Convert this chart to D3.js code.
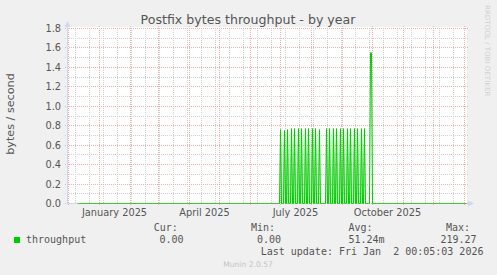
<!DOCTYPE html>
<html><head><meta charset="utf-8">
<script src="https://cdn.jsdelivr.net/npm/d3@7"></script>
<style>html,body{margin:0;padding:0;background:#f0f0f0;}svg{display:block}text{white-space:pre}</style>
</head><body><svg id="c" width="497" height="275"></svg>
<script>
// ---------- data ----------
const title = "Postfix bytes throughput - by year";
const yLabel = "bytes / second";
const seriesName = "throughput";
const dataStart = "2024-12-10";
const dataEnd = "2026-01-03";
const spikeDates = ["2025-07-01","2025-07-05","2025-07-08","2025-07-12","2025-07-15","2025-07-19",
  "2025-07-22","2025-07-26","2025-07-29","2025-08-02","2025-08-05","2025-08-09",
  "2025-08-16","2025-08-19","2025-08-23","2025-08-26","2025-08-30","2025-09-02",
  "2025-09-06","2025-09-09","2025-09-13","2025-09-16","2025-09-20","2025-09-23",
  "2025-09-29","2025-09-30"];
const spikeValues = [0.76,0.75,0.76,0.77,0.77,0.77,
  0.77,0.77,0.77,0.77,0.77,0.76,
  0.77,0.77,0.77,0.77,0.77,0.77,
  0.77,0.77,0.77,0.77,0.77,0.77,
  1.55,1.55];
const yMajorTicks = [0,0.2,0.4,0.6,0.8,1.0,1.2,1.4,1.6,1.8];
const yMinorTicks = [0.1,0.3,0.5,0.7,0.9,1.1,1.3,1.5,1.7];
const xLabelMonths = ["2025-01-01","2025-04-01","2025-07-01","2025-10-01"];
const legendHeaders = ["Cur:","Min:","Avg:","Max:"];
const legendValues = ["0.00","0.00","51.24m","219.27"];
const lastUpdate = "Last update: Fri Jan  2 00:05:03 2026";
const version = "Munin 2.0.57";
const watermark = "RRDTOOL / TOBI OETIKER";

// ---------- setup ----------
const P = d3.utcParse("%Y-%m-%d");
const svg = d3.select("#c");
const X0 = 67, X1 = 467, YT = 28, YB = 203;
const x = d3.scaleUtc().domain([P("2024-11-30"), P("2026-01-04")]).range([X0 + 0.5, X1 + 0.5]);
const y = d3.scaleLinear().domain([0, 1.8]).range([YB + 0.5, YT + 0.5]);
const green = "#00cc00";
const axisCol = "#cfd6f8";
const majorCol = "#f0b0b0";
const minorCol = "#d0d0d0";

svg.append("rect").attr("width", 497).attr("height", 275).attr("fill", "#f0f0f0");
svg.append("rect").attr("x", X0).attr("y", YT - 1).attr("width", X1 - X0).attr("height", YB - YT + 1).attr("fill", "#fff");

// minor vertical grid: every 2 weeks (Sundays)
const minorV = d3.utcDay.range(P("2024-12-08"), P("2026-01-03"), 14);
const majorV = d3.utcMonth.range(P("2024-12-01"), P("2026-01-03"));
const gGrid = svg.append("g");
gGrid.selectAll(".mv").data(minorV).join("line")
  .attr("x1", d => x(d)).attr("x2", d => x(d)).attr("y1", YT).attr("y2", YB)
  .attr("stroke", minorCol).attr("stroke-dasharray", "1,1");
gGrid.selectAll(".mh").data(yMinorTicks).join("line")
  .attr("x1", X0 - 2).attr("x2", X1 + 1).attr("y1", d => Math.round(y(d) - 0.5) + 0.5).attr("y2", d => Math.round(y(d) - 0.5) + 0.5)
  .attr("stroke", minorCol).attr("stroke-dasharray", "1,1");
gGrid.selectAll(".Mv").data(majorV).join("line")
  .attr("x1", d => x(d)).attr("x2", d => x(d)).attr("y1", YT - 2).attr("y2", YB + 3)
  .attr("stroke", majorCol).attr("stroke-dasharray", "1,1");
gGrid.selectAll(".Mh").data(yMajorTicks).join("line")
  .attr("x1", X0 - 2).attr("x2", X1 + 2).attr("y1", d => Math.round(y(d) - 0.5) + 0.5).attr("y2", d => Math.round(y(d) - 0.5) + 0.5)
  .attr("stroke", majorCol).attr("stroke-dasharray", "1,1");

// ---------- series ----------
const spikeMap = new Map(spikeDates.map((d, i) => [d, spikeValues[i]]));
const fmt = d3.utcFormat("%Y-%m-%d");
const series = d3.utcDay.range(P(dataStart), d3.utcDay.offset(P(dataEnd), 1))
  .map(d => ({ date: d, value: spikeMap.get(fmt(d)) || 0 }));

const defs = svg.append("defs");
const gr = defs.append("linearGradient").attr("id", "gf").attr("x1", 0).attr("y1", 0).attr("x2", 0).attr("y2", 1);
gr.append("stop").attr("offset", "0%").attr("stop-color", green).attr("stop-opacity", 0.03);
gr.append("stop").attr("offset", "55%").attr("stop-color", green).attr("stop-opacity", 0.22);
gr.append("stop").attr("offset", "100%").attr("stop-color", green).attr("stop-opacity", 0.3);

// soft fill between closely spaced spikes
const spikes = spikeDates.map((d, i) => ({ date: P(d), value: spikeValues[i] }));
const pairs = d3.pairs(spikes).filter(([a, b]) => (b.date - a.date) / 864e5 > 1 && (b.date - a.date) / 864e5 <= 4);
svg.append("g").selectAll("rect").data(pairs).join("rect")
  .attr("x", ([a]) => x(a.date)).attr("width", ([a, b]) => x(b.date) - x(a.date))
  .attr("y", ([a, b]) => y(Math.min(a.value, b.value))).attr("height", ([a, b]) => y(0) - y(Math.min(a.value, b.value)))
  .attr("fill", "url(#gf)");

svg.append("path").datum(series)
  .attr("d", d3.line().x(d => x(d.date)).y(d => y(d.value)))
  .attr("fill", "none").attr("stroke", green).attr("stroke-width", 1);

// ---------- axes ----------
svg.append("line").attr("x1", X0 + 0.5).attr("x2", X0 + 0.5).attr("y1", YB + 1).attr("y2", 24).attr("stroke", axisCol);
svg.append("line").attr("x1", X0).attr("x2", x(P(dataStart))).attr("y1", YB + 0.5).attr("y2", YB + 0.5).attr("stroke", axisCol);
svg.append("line").attr("x1", X1 + 1).attr("x2", 470).attr("y1", YB + 0.5).attr("y2", YB + 0.5).attr("stroke", axisCol);
svg.append("path").attr("d", `M${X0 - 2.5},${27} L${X0 + 0.5},${21} L${X0 + 3.5},${27} Z`).attr("fill", axisCol);
svg.append("path").attr("d", `M${468},${YB - 2.5} L${474},${YB + 0.5} L${468},${YB + 3.5} Z`).attr("fill", axisCol);

const font = "'DejaVu Sans', sans-serif";
const mono = "'DejaVu Sans Mono', monospace";
const txt = "#555";

svg.selectAll(".yl").data(yMajorTicks).join("text")
  .attr("x", 61).attr("y", d => y(d) + 3.5).attr("text-anchor", "end")
  .attr("font-family", font).attr("font-size", 9.8).attr("fill", txt)
  .text(d => d.toFixed(1));

svg.selectAll(".xl").data(xLabelMonths).join("text")
  .attr("x", d => x(d3.utcDay.offset(P(d), 15))).attr("y", 216).attr("text-anchor", "middle")
  .attr("font-family", font).attr("font-size", 9.8).attr("fill", txt)
  .text(d => d3.utcFormat("%B %Y")(P(d)));

svg.append("text").attr("x", 248).attr("y", 24).attr("text-anchor", "middle")
  .attr("font-family", font).attr("font-size", 12.6).attr("fill", txt).text(title);

svg.append("text").attr("transform", "translate(14,114) rotate(-90)").attr("text-anchor", "middle")
  .attr("font-family", font).attr("font-size", 11.2).attr("fill", txt).text(yLabel);

svg.append("text").attr("transform", "translate(485.3,5) rotate(90)").attr("text-anchor", "start")
  .attr("font-family", font).attr("font-size", 7.1).attr("fill", "#d0d0d0").text(watermark);

// ---------- legend ----------
svg.append("rect").attr("x", 14).attr("y", 237).attr("width", 6).attr("height", 6).attr("fill", green);
svg.append("text").attr("x", 26).attr("y", 243).attr("font-family", mono).attr("font-size", 10).attr("fill", txt).text(seriesName);
const headerX = [153.7, 251, 348.5, 446];
const valueX = [159.5, 257, 348.5, 440.5];
svg.selectAll(".lh").data(legendHeaders).join("text")
  .attr("x", (d, i) => headerX[i]).attr("y", 231).attr("font-family", mono).attr("font-size", 10).attr("fill", txt).text(d => d);
svg.selectAll(".lv").data(legendValues).join("text")
  .attr("x", (d, i) => valueX[i]).attr("y", 243).attr("font-family", mono).attr("font-size", 10).attr("fill", txt).text(d => d);
svg.append("text").attr("x", 260.7).attr("y", 255).attr("font-family", mono).attr("font-size", 10).attr("fill", txt).text(lastUpdate);
svg.append("text").attr("x", 248).attr("y", 266.5).attr("text-anchor", "middle")
  .attr("font-family", font).attr("font-size", 7.6).attr("fill", "#c4c4c4").text(version);
</script></body></html>
